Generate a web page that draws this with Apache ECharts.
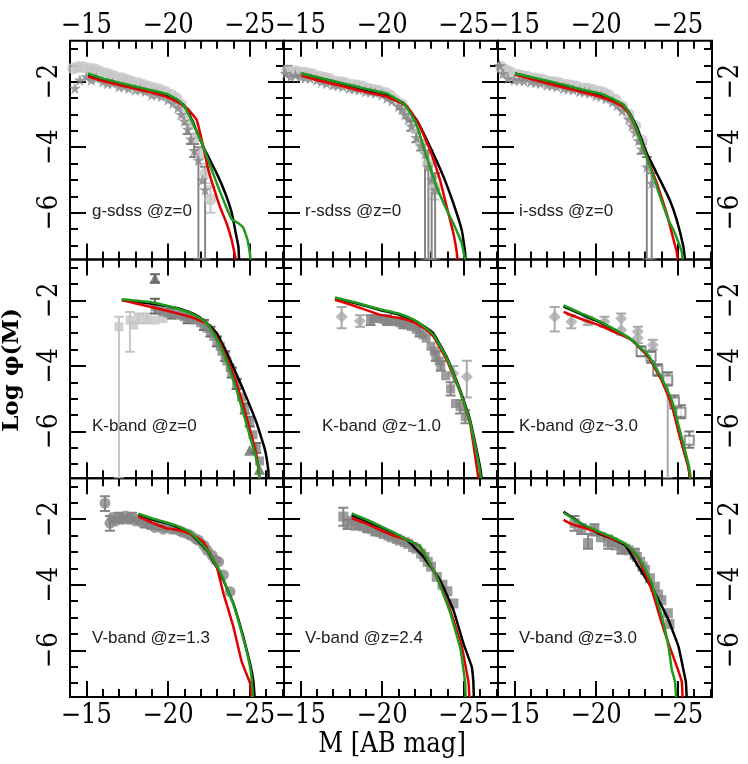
<!DOCTYPE html>
<html>
<head>
<meta charset="utf-8">
<script src="https://cdn.jsdelivr.net/npm/echarts@6/dist/echarts.min.js"></script>
<style>
html, body { margin: 0; padding: 0; background: #fff; }
#main { width: 748px; height: 764px; }
</style>
</head>
<body>
<div id="main"></div>
<script>
// axis ticks and labels
var xMajor = [-15, -20, -25];
var xMinor = [-14, -15, -16, -17, -18, -19, -20, -21, -22, -23, -24, -25, -26, -27];
var yMajor = [-2, -4, -6];
var yMinor = [-1, -1.5, -2, -2.5, -3, -3.5, -4, -4.5, -5, -5.5, -6, -6.5, -7];
var panelLabels = ['g-sdss @z=0', 'r-sdss @z=0', 'i-sdss @z=0',
                   'K-band @z=0', 'K-band @z~1.0', 'K-band @z~3.0',
                   'V-band @z=1.3', 'V-band @z=2.4', 'V-band @z=3.0'];

// ---- g-sdss z=0 ----
var gBlack = [[-15.1,-1.8],[-16,-1.92],[-17,-2.05],[-18,-2.17],[-19,-2.28],[-19.9,-2.41],[-20.5,-2.55],[-20.94,-2.71],[-21.3,-3.0],[-21.55,-3.27],[-22.16,-3.99],[-22.98,-4.8],[-23.5,-5.4],[-23.9,-6.0],[-24.1,-6.5],[-24.31,-7.04],[-24.35,-7.43]];
var gRed = [[-15.1,-1.85],[-16,-1.98],[-17,-2.1],[-18,-2.22],[-19,-2.33],[-19.8,-2.45],[-20.5,-2.6],[-21.15,-2.81],[-21.76,-3.17],[-22.16,-3.99],[-22.47,-4.7],[-22.78,-5.21],[-23.18,-5.82],[-23.59,-6.33],[-23.9,-6.84],[-24.15,-7.43]];
var gGreen = [[-15.1,-1.75],[-16,-1.9],[-17,-2.03],[-18,-2.15],[-19,-2.26],[-19.9,-2.37],[-20.6,-2.55],[-21.0,-2.75],[-21.5,-3.25],[-22.16,-3.99],[-22.98,-5.1],[-23.5,-5.75],[-23.9,-6.2],[-24.3,-6.32],[-24.6,-6.45],[-24.85,-6.8],[-25.0,-7.2],[-25.05,-7.43]];
var gStars = [[-14.3,-2.2],[-14.6,-1.95],[-15.0,-1.85],[-15.3,-1.95],[-15.6,-1.9],[-16.0,-2.0],[-16.3,-2.05],[-16.6,-2.05],[-17.0,-2.15],[-17.3,-2.15],[-17.6,-2.2],[-18.0,-2.25],[-18.3,-2.25],[-18.6,-2.3],[-19.0,-2.4],[-19.3,-2.4],[-19.6,-2.45],[-20.0,-2.55],[-20.3,-2.65],[-20.6,-2.8],[-20.8,-3.0],[-21.0,-3.2],[-21.2,-3.45],[-21.4,-3.75],[-21.6,-4.1],[-21.86,-4.4],[-22.1,-5.0],[-22.27,-5.3]];
var gCircles = [[-14.2,-1.6],[-14.5,-1.55],[-14.8,-1.55],[-15.2,-1.6],[-15.5,-1.62],[-15.8,-1.68],[-16.2,-1.75],[-16.5,-1.8],[-16.8,-1.85],[-17.2,-1.9],[-17.5,-1.95],[-17.8,-2.0],[-18.2,-2.05],[-18.5,-2.1],[-18.8,-2.15],[-19.2,-2.2],[-19.5,-2.25],[-19.8,-2.3],[-20.2,-2.4],[-20.5,-2.5],[-20.8,-2.7],[-21.1,-2.95],[-21.4,-3.3],[-21.7,-3.7],[-22.0,-4.2],[-22.3,-4.8],[-22.6,-5.6]];
var gErrDark = [[-21.2,-3.6,-3.3],[-21.4,-3.9,-3.6],[-21.6,-4.3,-3.9],[-21.86,-7.43,-4.0],[-22.27,-7.43,-4.6]];
var gErrLight = [[-22.6,-6.0,-5.2],[-22.3,-5.1,-4.5]];

// ---- r-sdss z=0 ----
var rBlack = [[-15.08,-1.75],[-16,-1.87],[-17,-1.99],[-17.84,-2.1],[-19,-2.25],[-20.29,-2.41],[-21.31,-2.66],[-22.12,-3.17],[-22.94,-3.99],[-23.76,-4.9],[-24.37,-5.72],[-24.88,-6.53],[-25.08,-7.19],[-25.12,-7.43]];
var rRed = [[-15.08,-1.82],[-16,-1.95],[-17,-2.07],[-17.84,-2.17],[-19,-2.32],[-20.29,-2.46],[-21.51,-2.74],[-22.33,-3.38],[-22.94,-4.09],[-23.55,-5.0],[-23.96,-5.82],[-24.37,-6.63],[-24.57,-7.19],[-24.62,-7.43]];
var rGreen = [[-15.08,-1.75],[-16,-1.86],[-17,-1.98],[-17.84,-2.08],[-19,-2.22],[-20.29,-2.36],[-21.4,-2.7],[-22.1,-3.3],[-22.73,-4.29],[-23.35,-5.21],[-23.96,-5.92],[-24.37,-6.33],[-24.88,-6.94],[-25.08,-7.43]];
var rStars = [[-14.1,-1.75],[-14.4,-1.85],[-14.7,-1.8],[-15.0,-1.85],[-15.3,-1.88],[-15.6,-1.9],[-16,-1.95],[-16.3,-2.0],[-16.6,-2.05],[-17,-2.1],[-17.3,-2.12],[-17.6,-2.15],[-18,-2.2],[-18.3,-2.22],[-18.6,-2.25],[-19,-2.3],[-19.3,-2.32],[-19.6,-2.35],[-20,-2.4],[-20.3,-2.5],[-20.6,-2.58],[-21,-2.75],[-21.2,-2.85],[-21.4,-3.0],[-21.6,-3.15],[-21.8,-3.35],[-22.1,-3.7],[-22.4,-3.95],[-22.63,-4.2],[-22.84,-4.6],[-23.04,-5.0],[-23.25,-5.3]];
var rCircles = [[-14.2,-1.65],[-14.5,-1.68],[-14.8,-1.7],[-15.2,-1.72],[-15.5,-1.75],[-15.8,-1.78],[-16.2,-1.85],[-16.5,-1.88],[-16.8,-1.92],[-17.2,-2.0],[-17.5,-2.02],[-17.8,-2.05],[-18.2,-2.1],[-18.5,-2.12],[-18.8,-2.15],[-19.2,-2.22],[-19.5,-2.25],[-19.8,-2.28],[-20.2,-2.35],[-20.5,-2.42],[-20.8,-2.55],[-21.2,-2.7],[-21.6,-3.0],[-22.0,-3.4],[-22.4,-3.9],[-22.8,-4.5],[-23.2,-5.2]];
var rErrDark = [[-21.8,-3.5,-3.2],[-22.1,-3.85,-3.55],[-22.4,-4.1,-3.8],[-22.63,-7.43,-3.9],[-22.84,-7.43,-4.1],[-23.04,-7.43,-4.5],[-23.25,-7.43,-4.8]];
var rErrLight = [[-23.2,-5.6,-4.9]];

// ---- i-sdss z=0 ----
var iBlack = [[-15.04,-1.75],[-16,-1.87],[-17,-1.99],[-18.21,-2.15],[-19.2,-2.28],[-20.25,-2.41],[-21.0,-2.55],[-21.68,-2.71],[-22.1,-3.0],[-22.49,-3.38],[-23.11,-4.19],[-23.92,-5.0],[-24.5,-5.6],[-24.94,-6.22],[-25.35,-7.04],[-25.45,-7.43]];
var iRed = [[-15.04,-1.78],[-16,-1.92],[-17,-2.05],[-18.21,-2.2],[-19.2,-2.33],[-20.25,-2.46],[-21,-2.6],[-21.68,-2.78],[-22.1,-3.05],[-22.49,-3.48],[-23.11,-4.29],[-23.72,-5.1],[-24.33,-6.02],[-24.64,-6.63],[-24.94,-7.19],[-25.0,-7.43]];
var iGreen = [[-15.04,-1.75],[-16,-1.86],[-17,-1.97],[-18.21,-2.12],[-19.2,-2.25],[-20.25,-2.36],[-21,-2.52],[-21.68,-2.71],[-22.1,-3.02],[-22.49,-3.45],[-23.31,-4.6],[-23.92,-5.51],[-24.43,-6.22],[-24.74,-6.53],[-25.25,-7.19],[-25.3,-7.43]];
var iStars = [[-14.1,-1.5],[-14.3,-1.75],[-14.6,-1.9],[-15.0,-1.95],[-15.3,-1.95],[-15.6,-1.97],[-16,-2.0],[-16.3,-2.03],[-16.6,-2.05],[-17,-2.1],[-17.3,-2.12],[-17.6,-2.15],[-18,-2.2],[-18.3,-2.22],[-18.6,-2.25],[-19,-2.3],[-19.3,-2.32],[-19.6,-2.35],[-20,-2.42],[-20.3,-2.45],[-20.6,-2.52],[-21,-2.62],[-21.3,-2.72],[-21.6,-2.88],[-22,-3.15],[-22.2,-3.35],[-22.4,-3.55],[-22.6,-3.8],[-22.8,-4.05],[-23.11,-4.6],[-23.41,-5.1]];
var iCircles = [[-14.2,-1.55],[-14.5,-1.65],[-14.8,-1.72],[-15.2,-1.8],[-15.5,-1.82],[-15.8,-1.85],[-16.2,-1.9],[-16.5,-1.92],[-16.8,-1.95],[-17.2,-2.0],[-17.5,-2.02],[-17.8,-2.05],[-18.2,-2.1],[-18.5,-2.12],[-18.8,-2.15],[-19.2,-2.2],[-19.5,-2.22],[-19.8,-2.25],[-20.2,-2.3],[-20.5,-2.35],[-20.8,-2.42],[-21.2,-2.55],[-21.6,-2.75],[-22.0,-3.0],[-22.4,-3.35],[-22.8,-3.8]];
var iErrDark = [[-22.8,-4.2,-3.9],[-23.11,-7.43,-4.3],[-23.41,-7.43,-4.8]];
var iErrLight = [];

// ---- K-band z=0 ----
var k0Black = [[-17.17,-1.99],[-18.9,-2.09],[-20.0,-2.18],[-20.94,-2.29],[-21.6,-2.42],[-22.16,-2.6],[-22.98,-3.0],[-23.8,-3.82],[-24.61,-4.73],[-25.43,-5.75],[-25.94,-6.57],[-26.14,-7.18],[-26.16,-7.43]];
var k0Red = [[-17.17,-1.99],[-18.9,-2.19],[-20.2,-2.35],[-21.35,-2.5],[-22.0,-2.62],[-22.37,-2.7],[-22.9,-3.05],[-23.39,-3.51],[-24.2,-4.53],[-25.02,-5.96],[-25.43,-6.77],[-25.6,-7.43]];
var k0Green = [[-17.17,-1.96],[-18.9,-2.05],[-20.2,-2.2],[-21.35,-2.38],[-22.0,-2.55],[-22.37,-2.7],[-22.9,-3.1],[-23.39,-3.6],[-24.2,-4.73],[-25.02,-6.16],[-25.53,-7.08],[-25.6,-7.43]];
var k0Light = [[-17.0,-2.8],[-17.67,-2.6],[-17.9,-2.75],[-18.2,-2.55],[-18.7,-2.55],[-19.2,-2.6],[-19.7,-2.55]];
var k0Dark = [[-19.2,-2.2],[-19.5,-2.3],[-19.7,-2.35],[-20.0,-2.38],[-20.2,-2.4],[-20.5,-2.42],[-20.7,-2.45],[-21.0,-2.5],[-21.2,-2.55],[-21.5,-2.57],[-21.7,-2.6],[-22.0,-2.68],[-22.2,-2.75],[-22.4,-2.85],[-22.6,-2.95],[-22.8,-3.1],[-23.0,-3.25],[-23.2,-3.4],[-23.3,-3.55],[-23.5,-3.7],[-23.6,-3.85],[-23.8,-4.05],[-23.9,-4.2],[-24.2,-4.55],[-24.5,-4.95],[-24.7,-5.3],[-25.0,-5.7],[-25.2,-6.1],[-25.4,-6.5],[-25.6,-6.9]];
var k0Tri = [[-19.2,-1.32],[-25.0,-6.57],[-25.6,-7.15]];
var k0ErrDark = [[-19.2,-1.45,-1.2],[-19.2,-2.4,-1.95],[-20.2,-2.55,-2.25],[-21.2,-2.7,-2.4],[-22.2,-2.9,-2.6],[-22.6,-3.1,-2.8],[-23.0,-3.4,-3.1],[-23.5,-3.85,-3.55],[-23.9,-4.35,-4.05],[-24.2,-4.7,-4.4],[-24.7,-5.45,-5.15],[-25.0,-5.85,-5.55],[-25.4,-6.65,-6.35]];
var k0ErrLight = [[-17.0,-7.43,-2.5],[-17.67,-3.57,-2.35],[-18.2,-2.7,-2.4],[-18.7,-2.7,-2.4]];

// ---- K-band z~1 ----
var k1Black = [[-17.12,-1.93],[-18.5,-2.1],[-19.88,-2.29],[-21.0,-2.43],[-21.92,-2.6],[-22.6,-2.8],[-23.15,-3.01],[-23.96,-3.72],[-24.78,-4.73],[-25.39,-5.65],[-26.0,-7.08],[-26.1,-7.43]];
var k1Red = [[-17.12,-1.98],[-18.5,-2.2],[-19.88,-2.44],[-21.0,-2.53],[-21.92,-2.66],[-22.6,-2.85],[-23.15,-3.1],[-23.96,-3.82],[-24.78,-4.8],[-25.39,-5.75],[-25.8,-7.08],[-25.9,-7.43]];
var k1Green = [[-17.12,-1.91],[-18.5,-2.08],[-19.88,-2.27],[-21.0,-2.4],[-21.92,-2.58],[-22.6,-2.8],[-23.15,-3.05],[-23.96,-3.75],[-24.78,-4.78],[-25.39,-5.7],[-25.95,-7.08],[-26.05,-7.43]];
var k1Light = [[-17.53,-2.5],[-18.65,-2.63],[-24.37,-4.23],[-25.19,-4.33]];
var k1Dark = [[-19.3,-2.6],[-19.6,-2.55],[-19.8,-2.55],[-20.1,-2.58],[-20.3,-2.6],[-20.6,-2.62],[-20.8,-2.65],[-21.1,-2.68],[-21.3,-2.7],[-21.6,-2.75],[-21.8,-2.8],[-22.1,-2.88],[-22.3,-2.95],[-22.5,-3.05],[-22.7,-3.15],[-23.0,-3.4],[-23.2,-3.55],[-23.3,-3.7],[-23.5,-3.85],[-23.6,-4.0],[-23.9,-4.3],[-24.2,-4.7],[-24.5,-5.15],[-24.78,-5.24],[-25.1,-5.55]];
var k1ErrDark = [[-19.3,-2.75,-2.45],[-20.3,-2.75,-2.45],[-21.3,-2.85,-2.55],[-22.3,-3.1,-2.8],[-23.3,-3.85,-3.55],[-23.6,-4.15,-3.85],[-24.2,-4.9,-4.5],[-24.78,-5.45,-5.05],[-25.1,-5.75,-5.35]];
var k1ErrLight = [[-17.53,-2.85,-2.2],[-18.65,-2.8,-2.45],[-25.19,-4.96,-3.84],[-24.37,-4.5,-4.0]];

// ---- K-band z~3 ----
var k3Black = [[-18.01,-2.19],[-19.0,-2.4],[-20.15,-2.65],[-21.2,-2.92],[-22.19,-3.21],[-23.21,-3.72],[-24.03,-4.43],[-24.64,-5.14],[-25.15,-6.16],[-25.66,-7.08],[-25.75,-7.43]];
var k3Red = [[-18.01,-2.35],[-19.0,-2.55],[-20.15,-2.75],[-21.2,-2.98],[-22.19,-3.21],[-23.21,-3.72],[-24.03,-4.45],[-24.64,-5.2],[-25.15,-6.2],[-25.66,-7.1],[-25.75,-7.43]];
var k3Green = [[-18.01,-2.15],[-19.0,-2.37],[-20.15,-2.62],[-21.2,-2.9],[-22.19,-3.2],[-23.21,-3.68],[-24.03,-4.38],[-24.64,-5.05],[-25.15,-6.0],[-25.7,-7.08],[-25.8,-7.43]];
var k3Light = [[-17.47,-2.5],[-18.49,-2.65],[-19.5,-2.62],[-20.52,-2.65],[-21.54,-2.55],[-21.54,-2.9],[-22.56,-2.95],[-22.56,-3.15],[-23.48,-3.36],[-24.39,-4.4]];
var k3Dark = [[-22.76,-3.56],[-23.37,-3.71],[-23.78,-4.13],[-24.39,-4.43],[-24.8,-5.1],[-25.2,-5.41],[-25.71,-6.27]];
var k3ErrDark = [[-22.76,-3.7,-3.4],[-23.37,-3.9,-3.55],[-23.78,-4.3,-3.95],[-24.39,-4.6,-4.2],[-24.8,-5.3,-4.9],[-25.2,-5.6,-5.2],[-25.71,-6.5,-6.0]];
var k3ErrLight = [[-17.47,-2.95,-2.2],[-18.49,-2.85,-2.45],[-19.5,-2.75,-2.5],[-20.52,-2.8,-2.5],[-21.54,-3.05,-2.4],[-22.56,-3.3,-2.8],[-23.48,-3.5,-3.2],[-24.39,-7.43,-4.2]];

// ---- V-band z=1.3 ----
var v1Black = [[-18.18,-1.85],[-19.0,-2.0],[-19.92,-2.12],[-20.6,-2.25],[-21.35,-2.43],[-22.37,-2.94],[-23.19,-3.65],[-24.0,-4.57],[-24.61,-5.59],[-25.02,-6.4],[-25.23,-6.96],[-25.3,-7.43]];
var v1Red = [[-18.18,-1.92],[-19.0,-2.1],[-19.92,-2.28],[-20.6,-2.33],[-21.35,-2.45],[-22.16,-2.69],[-22.98,-3.45],[-23.39,-4.26],[-24.0,-5.28],[-24.51,-6.35],[-25.02,-7.0],[-25.1,-7.43]];
var v1Green = [[-18.18,-1.83],[-19.0,-1.97],[-19.92,-2.1],[-20.6,-2.22],[-21.35,-2.4],[-22.37,-2.92],[-23.19,-3.6],[-24.0,-4.6],[-24.61,-5.65],[-25.02,-6.5],[-25.15,-7.0],[-25.2,-7.43]];
var v1Dark = [[-16.14,-1.51],[-16.45,-2.12],[-16.6,-1.95],[-16.8,-2.05],[-17.0,-1.95],[-17.2,-2.0],[-17.4,-1.9],[-17.6,-2.0],[-17.8,-1.95],[-18.0,-2.05],[-18.2,-2.0],[-18.4,-2.1],[-18.6,-2.1],[-18.8,-2.15],[-19.0,-2.15],[-19.2,-2.25],[-19.5,-2.2],[-19.7,-2.3],[-19.9,-2.25],[-20.2,-2.3],[-20.4,-2.3],[-20.7,-2.35],[-20.9,-2.4],[-21.2,-2.45],[-21.4,-2.5],[-21.7,-2.6],[-21.9,-2.65],[-22.2,-2.8],[-22.4,-2.95],[-22.7,-3.1],[-22.9,-3.25],[-23.1,-3.3],[-23.39,-3.7],[-23.8,-4.21]];
var v1ErrDark = [[-16.14,-1.75,-1.3],[-16.45,-2.35,-1.9],[-17.0,-2.1,-1.8],[-17.8,-2.1,-1.8],[-18.6,-2.25,-1.95],[-19.0,-2.3,-2.0]];

// ---- V-band z=2.4 ----
var v2Black = [[-18.14,-1.87],[-19.0,-2.05],[-19.88,-2.23],[-20.7,-2.42],[-21.51,-2.63],[-22.53,-3.14],[-23.55,-3.86],[-24.37,-4.77],[-24.98,-5.79],[-25.49,-6.5],[-25.59,-6.96],[-25.62,-7.43]];
var v2Red = [[-18.14,-1.97],[-19.0,-2.12],[-19.88,-2.33],[-20.7,-2.5],[-21.51,-2.62],[-22.33,-2.84],[-23.35,-3.76],[-24.17,-4.77],[-24.88,-5.89],[-25.29,-6.96],[-25.35,-7.43]];
var v2Green = [[-18.14,-1.82],[-19.0,-2.0],[-19.88,-2.2],[-20.7,-2.4],[-21.51,-2.62],[-22.33,-2.82],[-23.35,-3.76],[-24.17,-4.85],[-24.8,-5.95],[-25.08,-6.96],[-25.12,-7.43]];
var v2Dark = [[-17.63,-1.92],[-17.9,-2.15],[-18.2,-2.05],[-18.4,-2.2],[-18.6,-2.15],[-18.9,-2.22],[-19.1,-2.25],[-19.4,-2.3],[-19.6,-2.35],[-19.9,-2.4],[-20.1,-2.45],[-20.4,-2.5],[-20.6,-2.55],[-20.9,-2.6],[-21.1,-2.65],[-21.4,-2.7],[-21.6,-2.75],[-21.9,-2.85],[-22.1,-2.9],[-22.4,-3.05],[-22.6,-3.15],[-22.8,-3.3],[-23.0,-3.45],[-23.35,-3.76],[-23.7,-4.0],[-24.0,-4.2],[-24.37,-4.57]];
var v2ErrDark = [[-17.63,-2.2,-1.65],[-17.9,-2.3,-2.0],[-18.6,-2.3,-2.0],[-19.1,-2.4,-2.1],[-19.6,-2.5,-2.2]];

// ---- V-band z=3.0 ----
var v3Black = [[-18.01,-1.77],[-19.0,-2.1],[-20.15,-2.43],[-21.0,-2.6],[-21.79,-2.79],[-22.6,-3.45],[-23.62,-4.26],[-24.44,-5.08],[-25.05,-5.89],[-25.35,-6.6],[-25.5,-6.96],[-25.55,-7.43]];
var v3Red = [[-18.01,-2.02],[-18.5,-2.15],[-19.2,-2.25],[-20.15,-2.4],[-21.0,-2.6],[-21.79,-2.75],[-22.6,-3.19],[-23.42,-4.16],[-24.03,-5.18],[-24.44,-5.8],[-24.95,-6.5],[-25.25,-6.96],[-25.3,-7.43]];
var v3Green = [[-18.01,-1.8],[-19.0,-2.1],[-20.15,-2.37],[-21.0,-2.55],[-21.79,-2.75],[-22.6,-3.15],[-23.42,-3.96],[-24.03,-4.98],[-24.44,-5.89],[-24.64,-6.6],[-24.84,-6.96],[-24.9,-7.43]];
var v3Dark = [[-18.69,-2.12],[-19.1,-2.3],[-19.51,-2.73],[-19.9,-2.33],[-20.3,-2.55],[-20.74,-2.69],[-21.0,-2.7],[-21.2,-2.8],[-21.56,-2.9],[-21.8,-2.9],[-22.0,-2.95],[-22.37,-3.04],[-22.5,-3.15],[-22.7,-3.3],[-22.85,-3.45],[-23.0,-3.55],[-23.3,-3.8],[-23.6,-4.06],[-23.8,-4.3],[-24.0,-4.47],[-24.4,-4.87],[-24.5,-5.2]];
var v3ErrDark = [[-18.69,-2.35,-1.9],[-19.1,-2.45,-2.15],[-19.51,-2.9,-2.45],[-19.9,-2.5,-2.15],[-20.74,-2.9,-2.5],[-21.56,-3.05,-2.75],[-22.37,-3.2,-2.9]];

var DARK = '#858585', LIGHT = '#c6c6c6';
var STAR = 'path://M50,0 L61,35 L98,35 L68,57 L79,91 L50,70 L21,91 L32,57 L2,35 L39,35 Z';
var TRI = 'path://M50,0 L100,90 L0,90 Z M50,25 L80,80 L20,80 Z';

var panels = [
  {black: gBlack, red: gRed, green: gGreen, pts: [[gCircles, 'circle', LIGHT, 12], [gStars, STAR, DARK, 12]], errs: [[gErrLight, LIGHT], [gErrDark, DARK]]},
  {black: rBlack, red: rRed, green: rGreen, pts: [[rCircles, 'circle', LIGHT, 12], [rStars, STAR, DARK, 12]], errs: [[rErrLight, LIGHT], [rErrDark, DARK]]},
  {black: iBlack, red: iRed, green: iGreen, pts: [[iCircles, 'circle', LIGHT, 12], [iStars, STAR, DARK, 12]], errs: [[iErrLight, LIGHT], [iErrDark, DARK]]},
  {black: k0Black, red: k0Red, green: k0Green, pts: [[k0Light, 'rect', LIGHT, 9], [k0Dark, 'rect', DARK, 9], [k0Tri, TRI, '#666', 11]], errs: [[k0ErrLight, LIGHT], [k0ErrDark, '#666']]},
  {black: k1Black, red: k1Red, green: k1Green, pts: [[k1Light, 'diamond', '#aaa', 12], [k1Dark, 'rect', DARK, 9]], errs: [[k1ErrLight, '#aaa'], [k1ErrDark, DARK]]},
  {black: k3Black, red: k3Red, green: k3Green, pts: [[k3Light, 'diamond', '#aaa', 12], [k3Dark, 'emptyRect', '#777', 9]], errs: [[k3ErrLight, '#aaa'], [k3ErrDark, '#777']]},
  {black: v1Black, red: v1Red, green: v1Green, pts: [[v1Dark, 'circle', DARK, 11]], errs: [[v1ErrDark, DARK]]},
  {black: v2Black, red: v2Red, green: v2Green, pts: [[v2Dark, 'rect', DARK, 10]], errs: [[v2ErrDark, DARK]]},
  {black: v3Black, red: v3Red, green: v3Green, pts: [[v3Dark, 'rect', DARK, 10]], errs: [[v3ErrDark, DARK]]}
];

var L = 70, T = 40.7, W = 214, H = 218.8;
var xMin = -27.1, xMax = -14, yMin = -7.43, yMax = -0.75;
var labelFont = "'DejaVu Serif Condensed', 'Liberation Serif', serif";

function minus(v) { return v < 0 ? '\u2212' + Math.abs(v) : '' + v; }

function xAxisDef(g, pos, ticks, len, showLabel) {
  return {
    type: 'value', gridIndex: g, position: pos, min: xMin, max: xMax, inverse: true,
    axisLine: { show: false }, splitLine: { show: false },
    axisTick: { show: true, inside: true, length: len, customValues: ticks, lineStyle: { color: '#000', width: 2 } },
    axisLabel: { show: showLabel, customValues: xMajor, formatter: minus, margin: pos === 'top' ? 1 : 5,
                 fontFamily: labelFont, fontSize: 27, color: '#000' }
  };
}
function yAxisDef(g, pos, ticks, len, showLabel) {
  return {
    type: 'value', gridIndex: g, position: pos, min: yMin, max: yMax,
    axisLine: { show: false }, splitLine: { show: false },
    axisTick: { show: true, inside: true, length: len, customValues: ticks, lineStyle: { color: '#000', width: 2 } },
    axisLabel: { show: showLabel, customValues: yMajor, formatter: minus, margin: pos === 'left' ? 7 : 5, rotate: 90,
                 fontFamily: labelFont, fontSize: 27, color: '#000' }
  };
}

function errRender(color) {
  return function (params, api) {
    var x = api.value(0);
    var p1 = api.coord([x, api.value(1)]);
    var p2 = api.coord([x, api.value(2)]);
    var w = 5;
    var st = { stroke: color, lineWidth: 2 };
    return { type: 'group', children: [
      { type: 'line', shape: { x1: p1[0], y1: p1[1], x2: p2[0], y2: p2[1] }, style: st },
      { type: 'line', shape: { x1: p1[0] - w, y1: p1[1], x2: p1[0] + w, y2: p1[1] }, style: st },
      { type: 'line', shape: { x1: p2[0] - w, y1: p2[1], x2: p2[0] + w, y2: p2[1] }, style: st }
    ]};
  };
}

var grids = [], xAxes = [], yAxes = [], series = [], titles = [];
var labelOffsets = [[17, 157], [16, 157], [16, 157], [17, 153], [33, 153], [16, 153], [17, 147], [16, 147], [16, 147]];

panels.forEach(function (p, i) {
  var r = Math.floor(i / 3), c = i % 3;
  grids.push({ left: L + W * c, top: T + H * r, width: W, height: H, show: true,
               borderColor: '#000', borderWidth: 2, backgroundColor: 'transparent' });
  xAxes.push(xAxisDef(i, 'bottom', xMajor, 16, r === 2));
  xAxes.push(xAxisDef(i, 'bottom', xMinor, 8, false));
  xAxes.push(xAxisDef(i, 'top', xMajor, 16, r === 0));
  xAxes.push(xAxisDef(i, 'top', xMinor, 8, false));
  yAxes.push(yAxisDef(i, 'left', yMajor, 16, c === 0));
  yAxes.push(yAxisDef(i, 'left', yMinor, 8, false));
  yAxes.push(yAxisDef(i, 'right', yMajor, 16, c === 2));
  yAxes.push(yAxisDef(i, 'right', yMinor, 8, false));
  var ax = { xAxisIndex: 4 * i, yAxisIndex: 4 * i };

  p.errs.forEach(function (e) {
    series.push(Object.assign({ type: 'custom', clip: true, renderItem: errRender(e[1]), data: e[0], z: 1 }, ax));
  });
  p.pts.forEach(function (s) {
    series.push(Object.assign({ type: 'scatter', symbol: s[1], symbolSize: s[3], data: s[0], clip: true,
      itemStyle: { color: s[2], borderColor: s[2], borderWidth: s[1] === 'emptyRect' ? 2 : 0 }, z: 2 }, ax));
  });
  [[p.black, '#000000'], [p.red, '#e10000'], [p.green, '#1f9a1f']].forEach(function (ln) {
    series.push(Object.assign({ type: 'line', data: ln[0], showSymbol: false, smooth: 0.1, clip: true,
      lineStyle: { color: ln[1], width: 2.5 }, z: 3 }, ax));
  });

  titles.push({ text: panelLabels[i], left: L + W * c + labelOffsets[i][0], top: T + H * r + labelOffsets[i][1],
                textStyle: { fontFamily: 'Liberation Sans', fontSize: 17, fontWeight: 'normal', color: '#222' } });
});

var chart = echarts.init(document.getElementById('main'), null, { renderer: 'canvas' });
chart.setOption({
  animation: false,
  backgroundColor: '#ffffff',
  title: titles,
  grid: grids,
  xAxis: xAxes,
  yAxis: yAxes,
  series: series,
  graphic: [
    { type: 'text', x: 12, y: 370, rotation: Math.PI / 2,
      style: { text: 'Log \u03c6(M)', font: "bold 23px 'DejaVu Serif', 'Liberation Serif'", fill: '#000',
               textAlign: 'center', textVerticalAlign: 'middle' } },
    { type: 'text', x: 392, y: 745,
      style: { text: 'M [AB mag]', font: "27px 'DejaVu Serif Condensed', 'Liberation Serif'", fill: '#000',
               textAlign: 'center', textVerticalAlign: 'middle' } }
  ]
});
</script>
</body>
</html>
